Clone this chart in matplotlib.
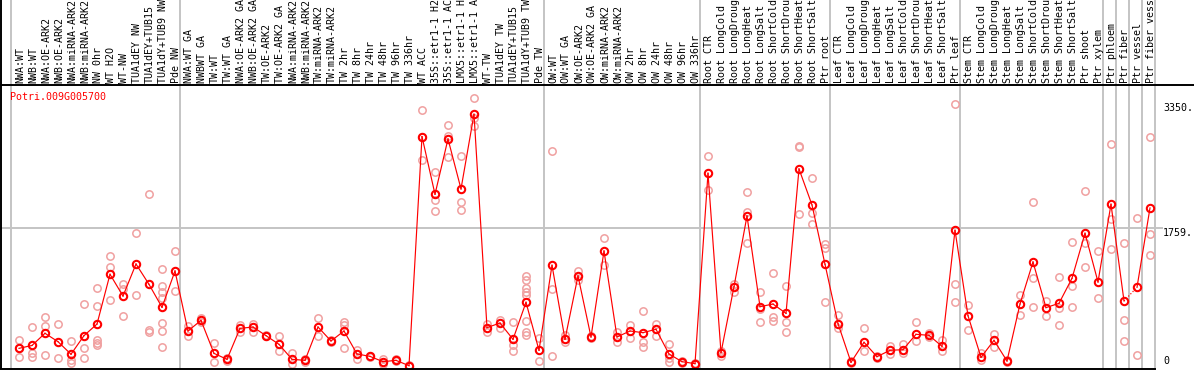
""" Expression profile of Potri.009G005700 across poplar samples """
import matplotlib
matplotlib.use("Agg")
import matplotlib.pyplot as plt
from matplotlib.transforms import blended_transform_factory

gene_name = "Potri.009G005700"

sample_labels = [
    "NWA:WT", "NWB:WT", "NWA:OE-ARK2", "NWB:OE-ARK2", "NWA:miRNA-ARK2",
    "NWB:miRNA-ARK2", "NW 0hr", "WT H2O", "WT-NW", "TUA1dEY NW",
    "TUA1dEY+TUB15", "TUA1dY+TUB9 NW", "Pde NW",
    "NWA:WT GA", "NWBWT GA", "TW:WT", "TW:WT GA", "NWA:OE-ARK2 GA",
    "NWB:OE-ARK2 GA", "TW:OE-ARK2", "TW:OE-ARK2 GA", "NWA:miRNA-ARK2",
    "NWB:miRNA-ARK2", "TW:miRNA-ARK2", "TW:miRNA-ARK2", "TW 2hr", "TW 8hr",
    "TW 24hr", "TW 48hr", "TW 96hr", "TW 336hr", "WT ACC", "35S::etr1-1 H2O",
    "35S::etr1-1 ACC", "LMX5::etr1-1 H2O", "LMX5::etr1-1 ACC", "WT-TW",
    "TUA1dEY TW", "TUA1dEY+TUB15", "TUA1dY+TUB9 TW", "Pde TW",
    "OW:WT", "OW:WT GA", "OW:OE-ARK2", "OW:OE-ARK2 GA", "OW:miRNA-ARK2",
    "OW:miRNA-ARK2", "OW 2hr", "OW 8hr", "OW 24hr", "OW 48hr", "OW 96hr",
    "OW 336hr",
    "Root CTR", "Root LongCold", "Root LongDrought", "Root LongHeat",
    "Root LongSalt", "Root ShortCold", "Root ShortDrought", "Root ShortHeat",
    "Root ShortSalt", "Ptr root",
    "Leaf CTR", "Leaf LongCold", "Leaf LongDrought", "Leaf LongHeat",
    "Leaf LongSalt", "Leaf ShortCold", "Leaf ShortDrought", "Leaf ShortHeat",
    "Leaf ShortSalt", "Ptr leaf",
    "Stem CTR", "Stem LongCold", "Stem LongDrought", "Stem LongHeat",
    "Stem LongSalt", "Stem ShortCold", "Stem ShortDrought", "Stem ShortHeat",
    "Stem ShortSalt", "Ptr shoot", "Ptr xylem",
    "Ptr phloem", "Ptr fiber", "Ptr vessel", "Ptr fiber vessel",
]

# mean expression per sample
means = [
    225, 262, 417, 310, 150, 387, 535, 1169, 892, 1300, 1041, 748, 1211,
    446, 582, 161, 85, 480, 497, 387, 276, 85, 72, 497, 319, 446, 153, 123,
    55, 72, 4, 2924, 2189, 2894, 2257, 3209, 489, 548, 340, 812, 200,
    1284, 340, 1148, 370, 1466, 370, 446, 425, 468, 153, 55, 30,
    2457, 170, 1011, 1913, 756, 790, 671, 2512, 2053, 1297,
    540, 47, 302, 119, 200, 208, 404, 391, 251, 1730,
    641, 111, 327, 64, 790, 1326, 744, 799, 1118, 1692, 1071,
    2062, 829, 1003, 2015,
]

# individual replicates per sample
replicates = [
    [327, 225, 119], [497, 170, 119], [625, 510, 140], [531, 98],
    [315, 72, 40], [790, 234, 98], [990, 765, 331, 298, 268],
    [1398, 1258, 841], [1041, 982, 637], [1692, 901], [2193, 459, 436],
    [1237, 1020, 948, 863, 544, 442, 238], [1466, 956],
    [514, 387], [608, 557], [289, 47], [106, 64], [523, 429], [540, 429],
    [395, 380], [383, 191], [161, 26], [89, 55], [608, 387], [330, 308],
    [565, 523, 225], [204, 89], [130, 115], [89, 26], [85, 60], [10, 0],
    [3264, 2924, 2627], [2469, 2117, 1976], [3069, 2936, 2665],
    [2678, 2095, 1993], [3413, 3166, 3064], [531, 429], [586, 480],
    [557, 268, 191], [1151, 1097, 990, 940, 905, 574, 437, 395], [353, 64],
    [2741, 982, 131], [395, 310], [1211, 1097], [380, 360], [1628, 1288],
    [437, 302], [523, 353], [697, 310, 242], [540, 378], [276, 98, 55],
    [70, 40], [35, 25],
    [2678, 2240], [191, 131], [1049, 940], [2215, 1967, 1564],
    [940, 727, 565], [1182, 629, 574], [1020, 565, 437], [2810, 2790, 1934],
    [2393, 1947, 1807], [1551, 1500, 812],
    [650, 489], [60, 35], [480, 196], [130, 108], [259, 157], [280, 166],
    [565, 319], [417, 370], [331, 196], [3340, 1041, 812],
    [778, 459], [161, 77], [404, 246], [80, 50], [905, 790, 650],
    [2087, 1118, 748], [829, 637], [1131, 736, 523], [1577, 1024, 748],
    [2229, 1564, 1266], [1462, 863],
    [2827, 1870, 1488], [1564, 586, 319], [1883, 140], [2924, 1683, 1411],
]

# sample index where each group starts (plus the end)
group_edges = [0, 13, 41, 53, 63, 73, 84, 85, 86, 87, 88]
dotted_after = [85]
y_ticks = [3350, 1759, 0]
y_tick_labels = ["3350.", "1759.", "0"]

W, H = 1194, 370
fig = plt.figure(figsize=(W / 100, H / 100), dpi=100)
ax = fig.add_axes([11 / W, (H - 368) / H, 1144 / W, 283 / H])
ax.set_xlim(-8 / 13, 88 - 8 / 13)
ax.set_ylim(-2 / 0.07845, 281 / 0.07845)
ax.axis("off")

mono = "DejaVu Sans Mono"
fsize = 7.2
x_data_y_fig = blended_transform_factory(ax.transData, fig.transFigure)
x_fig_y_data = blended_transform_factory(fig.transFigure, ax.transData)

# grey separators between sample groups, full height
for edge in group_edges:
    ax.plot([edge - 8 / 13] * 2, [0, 1], color="#c4c4c4", lw=1.4,
            transform=x_data_y_fig, clip_on=False, zorder=1)

# grid line at middle value
ax.plot([2 / W, 1162 / W], [y_ticks[1]] * 2, color="#c4c4c4", lw=1.4,
        transform=x_fig_y_data, clip_on=False, zorder=1)

# frame lines
fig.add_artist(plt.Line2D([0, 1], [(H - 85) / H] * 2, color="black", lw=1.4))
fig.add_artist(plt.Line2D([1 / W] * 2, [(H - 368) / H, 1], color="black", lw=1.4))
fig.add_artist(plt.Line2D([0, 1155 / W], [(H - 368.5) / H] * 2, color="black", lw=1.4))

# replicates
for i, reps in enumerate(replicates):
    ax.plot([i] * len(reps), reps, "o", mfc="none", mec="#f0a0a0", ms=5.3,
            mew=1.1, clip_on=False, zorder=2)

# mean line
for i in range(len(means) - 1):
    style = ":" if i in dotted_after else "-"
    ax.plot([i, i + 1], [means[i], means[i + 1]], style, color="red", lw=0.85,
            zorder=3, clip_on=False)
ax.plot(range(len(means)), means, "o", mfc="none", mec="red", ms=5.3,
        mew=1.5, zorder=4, clip_on=False)

# sample labels in the header (long ones run off the top, as in the original)
for i, label in enumerate(sample_labels):
    ax.text(i + 0.08, (H - 83) / H, label, rotation=90, ha="center", va="bottom",
            family=mono, fontsize=fsize, transform=x_data_y_fig)

# value labels on the right
for val, txt in zip(y_ticks, y_tick_labels):
    ax.text(1163 / W, val, txt, ha="left", va="top" if val > 0 else "bottom",
            family=mono, fontsize=fsize, transform=x_fig_y_data)

fig.text(10 / W, (H - 97) / H, gene_name, color="red", ha="left", va="center",
         family=mono, fontsize=fsize)

fig.savefig("out.png", dpi=100)
